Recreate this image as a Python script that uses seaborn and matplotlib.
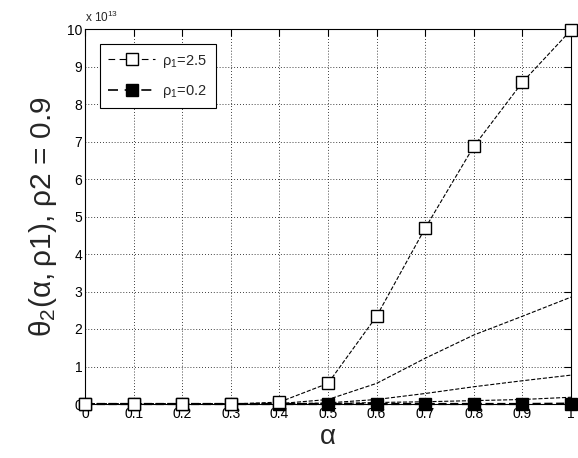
import numpy as np
import pandas as pd
import seaborn as sns
import matplotlib
matplotlib.use("Agg")
import matplotlib.pyplot as plt
from matplotlib.lines import Line2D

# ---- data (values in units of 1e13) ----
alpha = [0.0, 0.1, 0.2, 0.3, 0.4, 0.5, 0.6, 0.7, 0.8, 0.9, 1.0]
theta_rho_2_5 = [0.0, 0.0, 0.0, 0.0, 0.05, 0.55, 2.34, 4.69, 6.87, 8.58, 9.97]
theta_mid_a = [0.0, 0.0, 0.0, 0.0, 0.01, 0.12, 0.55, 1.22, 1.84, 2.34, 2.85]
theta_mid_b = [0.0, 0.0, 0.0, 0.0, 0.0, 0.03, 0.12, 0.28, 0.46, 0.62, 0.77]
theta_mid_c = [0.0, 0.0, 0.0, 0.0, 0.0, 0.01, 0.04, 0.06, 0.09, 0.12, 0.18]
theta_rho_0_2 = [0.0, 0.0, 0.0, 0.0, 0.0, 0.0, 0.0, 0.0, 0.0, 0.0, 0.01]
legend_labels = [r"$\rho_1$=2.5", r"$\rho_1$=0.2"]
x_ticks = [0, 0.1, 0.2, 0.3, 0.4, 0.5, 0.6, 0.7, 0.8, 0.9, 1]
x_tick_labels = ["0", "0.1", "0.2", "0.3", "0.4", "0.5", "0.6", "0.7", "0.8", "0.9", "1"]
y_ticks = list(range(0, 11))

sns.set_style("white")
plt.rcParams["font.family"] = ["Liberation Sans", "DejaVu Sans"]
plt.rcParams["mathtext.fontset"] = "dejavusans"
plt.rcParams["mathtext.default"] = "regular"

fig = plt.figure(figsize=(5.78, 4.58), dpi=100)
ax = fig.add_axes([85 / 578, 54 / 458, 486 / 578, 375 / 458])

dash = (6, 4)
for vals in [theta_mid_a, theta_mid_b, theta_mid_c]:
    sns.lineplot(x=alpha, y=vals, ax=ax, color="k", linewidth=0.8,
                 linestyle="--", dashes=dash, legend=False, zorder=2)

sns.lineplot(x=alpha, y=theta_rho_0_2, ax=ax, color="k", linewidth=1.6,
             linestyle="--", dashes=dash, marker="s", markersize=8,
             markerfacecolor="k", markeredgecolor="k",
             markeredgewidth=1.0, legend=False, zorder=3, clip_on=False)
sns.lineplot(x=alpha, y=theta_rho_2_5, ax=ax, color="k", linewidth=0.8,
             linestyle="--", dashes=dash, marker="s", markersize=8,
             markerfacecolor="white", markeredgecolor="k",
             markeredgewidth=1.0, legend=False, zorder=4, clip_on=False)

ax.set_xlim(0, 1)
ax.set_ylim(0, 10)
ax.set_xticks(x_ticks)
ax.set_xticklabels(x_tick_labels)
ax.set_yticks(y_ticks)
ax.tick_params(direction="in", top=True, right=True, length=5, width=0.8,
               labelsize=10, colors="k", pad=2)
ax.grid(True, linestyle=(0, (1, 2.5)), color="k", linewidth=0.6)
for s in ax.spines.values():
    s.set_color("k")
    s.set_linewidth(0.8)

ax.set_xlabel(r"$\alpha$", fontsize=20, labelpad=2)
ax.set_ylabel(r"$\theta_2(\alpha,\rho1)$, $\rho2$ = 0.9", fontsize=21.5, labelpad=6)
ax.text(0.0, 1.012, r"x 10$^{13}$", transform=ax.transAxes, fontsize=8.5,
        ha="left", va="bottom")

handles = [
    Line2D([0], [0], color="k", linestyle="--", dashes=dash, linewidth=0.8,
           marker="s", markersize=8, markerfacecolor="white",
           markeredgecolor="k"),
    Line2D([0], [0], color="k", linestyle="--", dashes=dash, linewidth=1.2,
           marker="s", markersize=8, markerfacecolor="k",
           markeredgecolor="k"),
]
leg = ax.legend(handles, legend_labels, loc="upper left", fontsize=10.5,
                frameon=True, fancybox=False, edgecolor="k", framealpha=1,
                handlelength=3.2, borderpad=0.6, labelspacing=0.9,
                handletextpad=0.5, bbox_to_anchor=(0.015, 0.98))
leg.get_frame().set_linewidth(0.8)

fig.savefig("out.png", dpi=100)
